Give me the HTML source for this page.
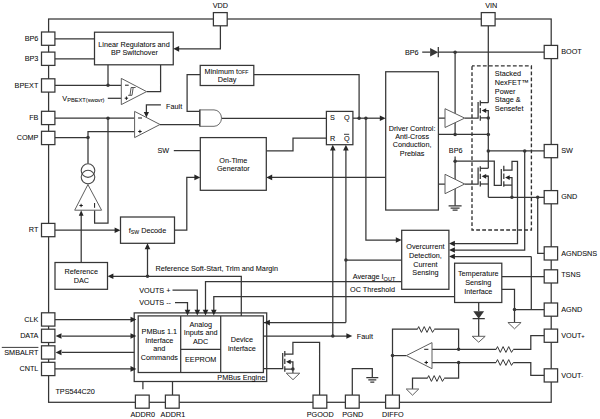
<!DOCTYPE html>
<html><head><meta charset="utf-8"><style>
html,body{margin:0;padding:0;background:#fff;}
svg{display:block;}
text{font-family:"Liberation Sans",sans-serif;}
</style></head><body>
<svg width="600" height="419" viewBox="0 0 600 419">
<rect width="600" height="419" fill="#fff"/>
<rect x="48.6" y="19.0" width="502.6" height="383.3" fill="none" stroke="#363636" stroke-width="1.25" />
<path d="M55,38.8 H94.5 M55,58.75 H94.5" fill="none" stroke="#363636" stroke-width="1.25" />
<path d="M220.4,25.8 V48.8 H179" fill="none" stroke="#363636" stroke-width="1.25" />
<path d="M55,85.3 H121.3 M108,64.8 V85.3 M160.6,64.8 V91.7 H146.6" fill="none" stroke="#363636" stroke-width="1.25" />
<path d="M107.8,98.3 H121.3" fill="none" stroke="#363636" stroke-width="1.25" />
<path d="M55,118.2 H134.6 M108,118.2 V223 H94.6 V210.2" fill="none" stroke="#363636" stroke-width="1.25" />
<path d="M55,137.6 H88 M88,163.8 V131.6 H134.6" fill="none" stroke="#363636" stroke-width="1.25" />
<path d="M81.2,262.5 V215" fill="none" stroke="#363636" stroke-width="1.25" />
<path d="M55,230.2 H115.3" fill="none" stroke="#363636" stroke-width="1.25" />
<path d="M174.5,230.2 H186.8 V177.4 H195" fill="none" stroke="#363636" stroke-width="1.25" />
<path d="M241.3,313 V276.3 H112.7 M147.5,276.3 V248.4" fill="none" stroke="#363636" stroke-width="1.25" />
<path d="M200.2,74.6 H187.1 V111.4 H199.8 M253.8,74.6 H359.1 V118.2" fill="none" stroke="#363636" stroke-width="1.25" />
<path d="M160.9,104.9 H146.4 V112" fill="none" stroke="#363636" stroke-width="1.25" />
<path d="M160,124.6 H199.8" fill="none" stroke="#363636" stroke-width="1.25" />
<path d="M221.5,118.3 H326.4" fill="none" stroke="#363636" stroke-width="1.25" />
<path d="M173.8,150.6 H200.3" fill="none" stroke="#363636" stroke-width="1.25" />
<path d="M266.3,150.8 H293 V138 H326.4" fill="none" stroke="#363636" stroke-width="1.25" />
<path d="M385.7,177.4 H271.5" fill="none" stroke="#363636" stroke-width="1.25" />
<path d="M352.9,118.2 H380.3" fill="none" stroke="#363636" stroke-width="1.25" />
<path d="M365.9,118.2 V240 H396.5" fill="none" stroke="#363636" stroke-width="1.25" />
<path d="M332.8,336 V149.9" fill="none" stroke="#363636" stroke-width="1.25" />
<path d="M345.9,322.6 V149.9 M345.9,260 H401.7 M345.9,322.6 H266.8" fill="none" stroke="#363636" stroke-width="1.25" />
<path d="M266.7,336 H347" fill="none" stroke="#363636" stroke-width="1.25" />
<path d="M422.2,52.2 H430.1 M438.3,52.2 H544.2 M455.1,52.2 V134.4" fill="none" stroke="#363636" stroke-width="1.25" />
<path d="M438.4,118.1 H445 M464.7,118.1 H478.1 V102" fill="none" stroke="#363636" stroke-width="1.25" />
<path d="M480.3,102.7 H488.3 M488.3,25.8 V102.7" fill="none" stroke="#363636" stroke-width="1.25" />
<path d="M484.5,110.6 H488.3 V168.3 M480.3,117.9 H488.3 M484.5,176.2 H488.3 V197.3" fill="none" stroke="#363636" stroke-width="1.25" />
<path d="M438.4,134.4 H488.3" fill="none" stroke="#363636" stroke-width="1.25" />
<path d="M488.3,150.9 H544.2" fill="none" stroke="#363636" stroke-width="1.25" />
<path d="M438.4,184 H445 M464.7,184 H478.1 V167.5" fill="none" stroke="#363636" stroke-width="1.25" />
<path d="M455.1,156.5 V205.8" fill="none" stroke="#363636" stroke-width="1.25" />
<path d="M455.1,161.2 H494.3 V185.3 H501.3 V169" fill="none" stroke="#363636" stroke-width="1.25" />
<path d="M480.3,168.3 H488.3" fill="none" stroke="#363636" stroke-width="1.25" />
<path d="M480.3,184 H488.3" fill="none" stroke="#363636" stroke-width="1.25" />
<path d="M507.9,177.5 H512 V197.3 M503.8,185.1 H512 M503.8,170 H512 V161.3 H517.5 V243.6 H454" fill="none" stroke="#363636" stroke-width="1.25" />
<path d="M488.3,197.3 H544.2 M537.7,197.3 V253.4 H544.2" fill="none" stroke="#363636" stroke-width="1.25" />
<path d="M524.7,150.9 V250 H454" fill="none" stroke="#363636" stroke-width="1.25" />
<path d="M531.3,256.5 V309.5 M531.3,256.5 H454" fill="none" stroke="#363636" stroke-width="1.25" />
<path d="M448.6,205.8 H461.6 M450.6,208 H459.6 M452.6,210.1 H457.6" fill="none" stroke="#363636" stroke-width="1.25" />
<path d="M501.8,276.6 H544.2" fill="none" stroke="#363636" stroke-width="1.25" />
<path d="M501.8,289.3 H514.5 V322.5 M514.5,309.5 H544.2" fill="none" stroke="#363636" stroke-width="1.25" />
<path d="M478.7,302.5 V311.3 M478.7,318.7 V336.3 M472.6,318.7 H484.8" fill="none" stroke="#363636" stroke-width="1.25" />
<path d="M454.6,296.5 H213.8 V310" fill="none" stroke="#363636" stroke-width="1.25" />
<path d="M401.7,281.6 H205.5 V310" fill="none" stroke="#363636" stroke-width="1.25" />
<path d="M172.5,290.1 H197.3 V310" fill="none" stroke="#363636" stroke-width="1.25" />
<path d="M175,302.6 H187.5 V310" fill="none" stroke="#363636" stroke-width="1.25" />
<path d="M55,319.6 H131 M62,336 H131 M62,352.4 H138.2 M55,368.9 H131" fill="none" stroke="#363636" stroke-width="1.25" />
<path d="M142.9,381.5 V389.2 M172.5,381.5 V395" fill="none" stroke="#363636" stroke-width="1.25" />
<path d="M263.6,368.6 H282.7 V352.9" fill="none" stroke="#363636" stroke-width="1.25" />
<path d="M284.8,354.1 H292.9 V342.4 H319.6 V395" fill="none" stroke="#363636" stroke-width="1.25" />
<path d="M289.8,361.8 H292.9 V373.2 M284.8,369 H292.9" fill="none" stroke="#363636" stroke-width="1.25" />
<path d="M352.3,395 V368.5 H372.3 V377.6 M366.3,377.6 H378.3 M368.3,379.9 H376.3 M370.3,382.1 H374.3" fill="none" stroke="#363636" stroke-width="1.25" />
<path d="M392.5,395 V329 H417.3 M434.3,329 H458.6 V349.3" fill="none" stroke="#363636" stroke-width="1.25" />
<path d="M406.3,355.6 H392.5" fill="none" stroke="#363636" stroke-width="1.25" />
<path d="M432,349.3 H496.1 M513.3,349.3 H530.8 V335.6 H544.2" fill="none" stroke="#363636" stroke-width="1.25" />
<path d="M432,362.6 H496.1 M513.3,362.6 H530.8 V375.3 H544.2" fill="none" stroke="#363636" stroke-width="1.25" />
<path d="M458.6,362.6 V378.2 H444.2 M427.3,378.2 H412.5 V389" fill="none" stroke="#363636" stroke-width="1.25" />
<path d="M417.30,329.50 L418.68,326.60 L421.45,332.40 L424.22,326.60 L426.99,332.40 L429.76,326.60 L432.53,332.40 L434.30,329.50" fill="none" stroke="#363636" stroke-width="1.0" />
<path d="M496.10,349.50 L497.50,346.60 L500.30,352.40 L503.10,346.60 L505.90,352.40 L508.71,346.60 L511.51,352.40 L513.30,349.50" fill="none" stroke="#363636" stroke-width="1.0" />
<path d="M496.10,362.50 L497.50,359.60 L500.30,365.40 L503.10,359.60 L505.90,365.40 L508.71,359.60 L511.51,365.40 L513.30,362.50" fill="none" stroke="#363636" stroke-width="1.0" />
<path d="M427.30,378.50 L428.68,375.60 L431.43,381.40 L434.18,375.60 L436.93,381.40 L439.69,375.60 L442.44,381.40 L444.20,378.50" fill="none" stroke="#363636" stroke-width="1.0" />
<rect x="94.5" y="32.2" width="78.75" height="32.60000000000001" fill="#fff" stroke="#363636" stroke-width="1.25" />
<rect x="200.2" y="65.4" width="53.599999999999994" height="20.099999999999994" fill="#fff" stroke="#363636" stroke-width="1.25" />
<rect x="200.3" y="137.6" width="66.0" height="52.70000000000002" fill="#fff" stroke="#363636" stroke-width="1.25" />
<rect x="120.5" y="217.0" width="54.0" height="26.30000000000001" fill="#fff" stroke="#363636" stroke-width="1.25" />
<rect x="55.0" y="262.5" width="52.5" height="26.80000000000001" fill="#fff" stroke="#363636" stroke-width="1.25" />
<rect x="326.4" y="111.4" width="26.5" height="33.29999999999998" fill="#fff" stroke="#363636" stroke-width="1.25" />
<rect x="385.7" y="71.75" width="52.69999999999999" height="138.3" fill="#fff" stroke="#363636" stroke-width="1.25" />
<rect x="401.7" y="230.3" width="47.19999999999999" height="59.0" fill="#fff" stroke="#363636" stroke-width="1.25" />
<rect x="454.6" y="263.2" width="47.19999999999999" height="39.30000000000001" fill="#fff" stroke="#363636" stroke-width="1.25" />
<rect x="472" y="65.9" width="59.4" height="164.1" fill="none" stroke="#333" stroke-width="1.35" stroke-dasharray="3.8,2.2" stroke-dashoffset="1.1"/>
<rect x="134.2" y="312.9" width="132.5" height="68.60000000000002" fill="#fff" stroke="#363636" stroke-width="1.25" />
<rect x="138.2" y="315.9" width="125.19999999999999" height="56.60000000000002" fill="#fff" stroke="#363636" stroke-width="1.25" />
<path d="M180.7,315.9 V372.5 M220.7,315.9 V372.5 M180.7,349.3 H220.7" fill="none" stroke="#363636" stroke-width="1.25" />
<path d="M263.4,336 H266.8 M263.4,368.6 H266.8 M241.3,312.8 V315.9 M263.4,322.6 H266.8" fill="none" stroke="#363636" stroke-width="1.25" />
<polygon points="121.3,78.4 121.3,104.6 146.6,91.6" fill="#fff" stroke="#5e5e5e" stroke-width="1.0" stroke-linejoin="miter"/>
<polygon points="134.6,111.4 134.6,137.6 160.0,124.5" fill="#fff" stroke="#5e5e5e" stroke-width="1.0" stroke-linejoin="miter"/>
<polygon points="87.9,184.6 74.7,210.2 101.6,210.2" fill="#fff" stroke="#5e5e5e" stroke-width="1.0" stroke-linejoin="miter"/>
<polygon points="445,108.7 445,127.5 464.7,118.1" fill="#fff" stroke="#5e5e5e" stroke-width="1.0" stroke-linejoin="miter"/>
<polygon points="445,174.3 445,193.7 464.7,184.0" fill="#fff" stroke="#5e5e5e" stroke-width="1.0" stroke-linejoin="miter"/>
<polygon points="406.3,355.6 432,342.6 432,368.7" fill="#fff" stroke="#5e5e5e" stroke-width="1.0" stroke-linejoin="miter"/>
<path d="M199.8,109.9 H214.0 A7.5,8.2 0 0 1 214.0,126.3 H199.8 Z" fill="#fff" stroke="#6a6a6a" stroke-width="1.0"/>
<path d="M199.8,109.6 V126.6" fill="none" stroke="#363636" stroke-width="1.25" />
<circle cx="88" cy="170.6" r="6.8" fill="#fff" stroke="#4a4a4a" stroke-width="1.1"/>
<circle cx="88" cy="177.1" r="6.8" fill="none" stroke="#4a4a4a" stroke-width="1.1"/>
<path d="M128.1,95.3 H132.0 L133.2,87.5 H135.6 M130.0,95.3 L131.1,87.5 H133.2" fill="none" stroke="#363636" stroke-width="0.85" />
<path d="M125.0,85.2 H128.7 M124.7,98.2 H128.1 M126.4,96.5 V99.9 M138.1,118.0 H142.0 M138.2,131.5 H141.7 M139.95,129.8 V133.2 M79.4,205.5 H82.8 M81.1,203.8 V207.2 M94.6,203.0 V207.8 M424.2,349.3 H428.4 M424.5,362.5 H428.0 M426.25,360.8 V364.2" stroke="#1a1a1a" stroke-width="1.0" fill="none"/>
<polygon points="430.1,47.9 430.1,56.5 438.3,52.2" fill="#363636"/>
<path d="M438.3,47.1 V57.3" fill="none" stroke="#363636" stroke-width="1.25" />
<polygon points="473.3,311.3 484.1,311.3 478.7,318.7" fill="#363636"/>
<polygon points="507.9,322.5 521.1,322.5 514.5,328.8" fill="#fff" stroke="#5e5e5e" stroke-width="1.0" stroke-linejoin="miter"/>
<polygon points="472.2,336.3 485.2,336.3 478.7,342.2" fill="#fff" stroke="#5e5e5e" stroke-width="1.0" stroke-linejoin="miter"/>
<polygon points="406.25,389 418.75,389 412.5,395.2" fill="#fff" stroke="#5e5e5e" stroke-width="1.0" stroke-linejoin="miter"/>
<polygon points="286.25,373.2 299.75,373.2 293.0,379.7" fill="#fff" stroke="#5e5e5e" stroke-width="1.0" stroke-linejoin="miter"/>
<path d="M480.3,100.4 V105.7 M480.3,107.95 V113.25 M480.3,115.5 V120.8" fill="none" stroke="#363636" stroke-width="1.25" />
<path d="M480.3,166.3 V171.58 M480.3,173.81 V179.09 M480.3,181.32 V186.6" fill="none" stroke="#363636" stroke-width="1.25" />
<path d="M503.8,165.8 V171.23 M503.8,173.53 V178.97 M503.8,181.27 V186.7" fill="none" stroke="#363636" stroke-width="1.25" />
<path d="M284.8,351.1 V356.46 M284.8,358.72 V364.08 M284.8,366.34 V371.7" fill="none" stroke="#363636" stroke-width="1.25" />
<polygon points="481.6,110.6 486.20000000000005,108.19999999999999 486.20000000000005,113.0" fill="#222"/>
<polygon points="481.6,176.3 486.20000000000005,173.9 486.20000000000005,178.70000000000002" fill="#222"/>
<polygon points="505.1,177.6 509.70000000000005,175.2 509.70000000000005,180.0" fill="#222"/>
<polygon points="286.1,361.8 290.70000000000005,359.40000000000003 290.70000000000005,364.2" fill="#222"/>
<path d="M484.5,176.2 H488.3" fill="none" stroke="#363636" stroke-width="1.25" />
<polygon points="173.30,48.80 179.10,45.90 179.10,51.70" fill="#262626" stroke="none"/>
<polygon points="146.40,117.60 143.80,112.00 149.00,112.00" fill="#262626" stroke="none"/>
<polygon points="81.20,210.20 78.80,215.80 83.60,215.80" fill="#262626" stroke="none"/>
<polygon points="120.50,230.20 114.60,227.40 114.60,233.00" fill="#262626" stroke="none"/>
<polygon points="200.30,177.40 194.40,174.60 194.40,180.20" fill="#262626" stroke="none"/>
<polygon points="107.50,276.30 113.40,273.50 113.40,279.10" fill="#262626" stroke="none"/>
<polygon points="147.50,243.30 144.70,249.20 150.30,249.20" fill="#262626" stroke="none"/>
<polygon points="266.30,177.40 272.20,174.60 272.20,180.20" fill="#262626" stroke="none"/>
<polygon points="385.70,118.20 379.80,115.40 379.80,121.00" fill="#262626" stroke="none"/>
<polygon points="401.70,240.00 395.80,237.20 395.80,242.80" fill="#262626" stroke="none"/>
<polygon points="332.80,144.70 330.00,150.60 335.60,150.60" fill="#262626" stroke="none"/>
<polygon points="345.90,144.70 343.10,150.60 348.70,150.60" fill="#262626" stroke="none"/>
<polygon points="264.00,322.60 269.90,319.80 269.90,325.40" fill="#262626" stroke="none"/>
<polygon points="352.30,336.00 346.40,333.20 346.40,338.80" fill="#262626" stroke="none"/>
<polygon points="449.00,243.60 454.90,240.80 454.90,246.40" fill="#262626" stroke="none"/>
<polygon points="449.00,250.00 454.90,247.20 454.90,252.80" fill="#262626" stroke="none"/>
<polygon points="449.00,256.50 454.90,253.70 454.90,259.30" fill="#262626" stroke="none"/>
<polygon points="187.50,315.60 184.70,309.70 190.30,309.70" fill="#262626" stroke="none"/>
<polygon points="197.30,315.60 194.50,309.70 200.10,309.70" fill="#262626" stroke="none"/>
<polygon points="205.50,315.60 202.70,309.70 208.30,309.70" fill="#262626" stroke="none"/>
<polygon points="213.80,315.60 211.00,309.70 216.60,309.70" fill="#262626" stroke="none"/>
<polygon points="136.40,319.60 130.50,316.80 130.50,322.40" fill="#262626" stroke="none"/>
<polygon points="136.40,336.00 130.50,333.20 130.50,338.80" fill="#262626" stroke="none"/>
<polygon points="55.60,336.00 61.50,333.20 61.50,338.80" fill="#262626" stroke="none"/>
<polygon points="55.60,352.40 61.50,349.60 61.50,355.20" fill="#262626" stroke="none"/>
<polygon points="136.40,368.90 130.50,366.10 130.50,371.70" fill="#262626" stroke="none"/>
<circle cx="108" cy="85.3" r="1.75" fill="#363636"/>
<circle cx="108" cy="118.2" r="1.75" fill="#363636"/>
<circle cx="88" cy="137.6" r="1.75" fill="#363636"/>
<circle cx="147.5" cy="276.3" r="1.75" fill="#363636"/>
<circle cx="359.1" cy="118.2" r="1.75" fill="#363636"/>
<circle cx="365.9" cy="118.2" r="1.75" fill="#363636"/>
<circle cx="345.9" cy="260.0" r="1.75" fill="#363636"/>
<circle cx="332.8" cy="336.0" r="1.75" fill="#363636"/>
<circle cx="455.1" cy="52.2" r="1.75" fill="#363636"/>
<circle cx="455.1" cy="134.4" r="1.75" fill="#363636"/>
<circle cx="488.3" cy="134.4" r="1.75" fill="#363636"/>
<circle cx="488.3" cy="150.9" r="1.75" fill="#363636"/>
<circle cx="524.7" cy="150.9" r="1.75" fill="#363636"/>
<circle cx="455.1" cy="161.2" r="1.75" fill="#363636"/>
<circle cx="488.3" cy="117.9" r="1.75" fill="#363636"/>
<circle cx="511.9" cy="197.3" r="1.75" fill="#363636"/>
<circle cx="537.7" cy="197.3" r="1.75" fill="#363636"/>
<circle cx="514.5" cy="309.5" r="1.75" fill="#363636"/>
<circle cx="392.5" cy="355.6" r="1.75" fill="#363636"/>
<circle cx="458.6" cy="349.3" r="1.75" fill="#363636"/>
<circle cx="458.6" cy="362.6" r="1.75" fill="#363636"/>
<circle cx="292.9" cy="369" r="1.75" fill="#363636"/>
<rect x="41.5" y="32.0" width="13.399999999999999" height="13.299999999999997" fill="#fff" stroke="#363636" stroke-width="1.25" />
<rect x="41.5" y="52.1" width="13.399999999999999" height="13.300000000000004" fill="#fff" stroke="#363636" stroke-width="1.25" />
<rect x="41.5" y="78.8" width="13.399999999999999" height="13.299999999999997" fill="#fff" stroke="#363636" stroke-width="1.25" />
<rect x="41.5" y="111.3" width="13.399999999999999" height="13.299999999999997" fill="#fff" stroke="#363636" stroke-width="1.25" />
<rect x="41.5" y="131.3" width="13.399999999999999" height="13.300000000000011" fill="#fff" stroke="#363636" stroke-width="1.25" />
<rect x="41.5" y="223.4" width="13.399999999999999" height="13.300000000000011" fill="#fff" stroke="#363636" stroke-width="1.25" />
<rect x="41.5" y="312.8" width="13.399999999999999" height="13.300000000000011" fill="#fff" stroke="#363636" stroke-width="1.25" />
<rect x="41.5" y="329.2" width="13.399999999999999" height="13.300000000000011" fill="#fff" stroke="#363636" stroke-width="1.25" />
<rect x="41.5" y="345.8" width="13.399999999999999" height="13.300000000000011" fill="#fff" stroke="#363636" stroke-width="1.25" />
<rect x="41.5" y="362.3" width="13.399999999999999" height="13.300000000000011" fill="#fff" stroke="#363636" stroke-width="1.25" />
<rect x="544.2" y="45.4" width="13.399999999999977" height="13.199999999999996" fill="#fff" stroke="#363636" stroke-width="1.25" />
<rect x="544.2" y="144.5" width="13.399999999999977" height="13.199999999999989" fill="#fff" stroke="#363636" stroke-width="1.25" />
<rect x="544.2" y="190.6" width="13.399999999999977" height="13.199999999999989" fill="#fff" stroke="#363636" stroke-width="1.25" />
<rect x="544.2" y="246.8" width="13.399999999999977" height="13.199999999999989" fill="#fff" stroke="#363636" stroke-width="1.25" />
<rect x="544.2" y="269.8" width="13.399999999999977" height="13.199999999999989" fill="#fff" stroke="#363636" stroke-width="1.25" />
<rect x="544.2" y="303.0" width="13.399999999999977" height="13.199999999999989" fill="#fff" stroke="#363636" stroke-width="1.25" />
<rect x="544.2" y="329.1" width="13.399999999999977" height="13.199999999999989" fill="#fff" stroke="#363636" stroke-width="1.25" />
<rect x="544.2" y="368.8" width="13.399999999999977" height="13.199999999999989" fill="#fff" stroke="#363636" stroke-width="1.25" />
<rect x="213.4" y="12.6" width="13.800000000000011" height="13.199999999999998" fill="#fff" stroke="#363636" stroke-width="1.25" />
<rect x="481.3" y="12.6" width="13.800000000000011" height="13.199999999999998" fill="#fff" stroke="#363636" stroke-width="1.25" />
<rect x="135.4" y="395.1" width="13.800000000000011" height="13.100000000000023" fill="#fff" stroke="#363636" stroke-width="1.25" />
<rect x="165.4" y="395.1" width="13.800000000000011" height="13.100000000000023" fill="#fff" stroke="#363636" stroke-width="1.25" />
<rect x="313.0" y="395.1" width="13.800000000000011" height="13.100000000000023" fill="#fff" stroke="#363636" stroke-width="1.25" />
<rect x="345.4" y="395.1" width="13.800000000000011" height="13.100000000000023" fill="#fff" stroke="#363636" stroke-width="1.25" />
<rect x="385.6" y="395.1" width="13.800000000000011" height="13.100000000000023" fill="#fff" stroke="#363636" stroke-width="1.25" />
<g fill="#0a0a0a" stroke="#0a0a0a" stroke-width="0.06" font-family="Liberation Sans, sans-serif">
<text x="38.4" y="41.0" text-anchor="end" font-size="7.25" >BP6</text>
<text x="38.4" y="60.95" text-anchor="end" font-size="7.25" >BP3</text>
<text x="38.4" y="87.5" text-anchor="end" font-size="7.25" >BPEXT</text>
<text x="38.4" y="120.4" text-anchor="end" font-size="7.25" >FB</text>
<text x="38.4" y="139.79999999999998" text-anchor="end" font-size="7.25" >COMP</text>
<text x="38.4" y="232.39999999999998" text-anchor="end" font-size="7.25" >RT</text>
<text x="38.4" y="321.8" text-anchor="end" font-size="7.25" >CLK</text>
<text x="38.4" y="338.2" text-anchor="end" font-size="7.25" >DATA</text>
<text x="38.4" y="354.59999999999997" text-anchor="end" font-size="7.25" >SMBALRT</text>
<text x="38.4" y="371.09999999999997" text-anchor="end" font-size="7.25" >CNTL</text>
<path d="M1.8,347.4 H38.4" stroke="#0a0a0a" stroke-width="0.8"/>
<text x="561.2" y="54.300000000000004" text-anchor="start" font-size="7.25" >BOOT</text>
<text x="561.2" y="153.0" text-anchor="start" font-size="7.25" >SW</text>
<text x="561.2" y="199.4" text-anchor="start" font-size="7.25" >GND</text>
<text x="561.2" y="255.5" text-anchor="start" font-size="7.25" >AGNDSNS</text>
<text x="561.2" y="277.3" text-anchor="start" font-size="7.25" >TSNS</text>
<text x="561.2" y="311.6" text-anchor="start" font-size="7.25" >AGND</text>
<text x="561.2" y="337.8" text-anchor="start" font-size="7.25" >VOUT<tspan font-size="5.8">+</tspan></text>
<text x="561.2" y="377.5" text-anchor="start" font-size="7.25" >VOUT<tspan font-size="5.8">-</tspan></text>
<text x="220.4" y="7.6" text-anchor="middle" font-size="7.25" >VDD</text>
<text x="491.3" y="7.6" text-anchor="middle" font-size="7.25" >VIN</text>
<text x="142.70000000000002" y="417.2" text-anchor="middle" font-size="7.25" >ADDR0</text>
<text x="172.9" y="417.2" text-anchor="middle" font-size="7.25" >ADDR1</text>
<text x="320.2" y="417.2" text-anchor="middle" font-size="7.25" >PGOOD</text>
<text x="352.7" y="417.2" text-anchor="middle" font-size="7.25" >PGND</text>
<text x="392.9" y="417.2" text-anchor="middle" font-size="7.25" >DIFFO</text>
<text x="134.0" y="46.8" text-anchor="middle" font-size="7.25" >Linear Regulators and</text>
<text x="134.4" y="55.4" text-anchor="middle" font-size="7.25" >BP Switchover</text>
<text x="226.5" y="73.9" text-anchor="middle" font-size="7.25" >Minimum t<tspan font-size="5.2">OFF</tspan></text>
<text x="227.1" y="81.8" text-anchor="middle" font-size="7.25" >Delay</text>
<text x="62.3" y="100.7" text-anchor="start" font-size="7.25" >V<tspan font-size="5.7" dy="1.7">PBEXT(swovr)</tspan></text>
<text x="166.1" y="108.6" text-anchor="start" font-size="7.25" >Fault</text>
<text x="157.5" y="153.2" text-anchor="start" font-size="7.25" >SW</text>
<text x="233.3" y="162.9" text-anchor="middle" font-size="7.25" >On-Time</text>
<text x="233.3" y="170.9" text-anchor="middle" font-size="7.25" >Generator</text>
<text x="147.5" y="232.7" text-anchor="middle" font-size="7.25" >f<tspan font-size="5.2" dy="1.4">SW</tspan><tspan dy="-1.4"> Decode</tspan></text>
<text x="81.3" y="273.8" text-anchor="middle" font-size="7.25" >Reference</text>
<text x="81.3" y="282.6" text-anchor="middle" font-size="7.25" >DAC</text>
<text x="155.5" y="270.5" text-anchor="start" font-size="7.25" >Reference Soft-Start, Trim and Margin</text>
<text x="139.2" y="292.6" text-anchor="start" font-size="7.25" >VOUTS +</text>
<text x="139.2" y="305.1" text-anchor="start" font-size="7.25" >VOUTS --</text>
<text x="159.3" y="333.6" text-anchor="middle" font-size="7.25" >PMBus 1.1</text>
<text x="159.3" y="342.5" text-anchor="middle" font-size="7.25" >Interface</text>
<text x="159.3" y="351.2" text-anchor="middle" font-size="7.25" >and</text>
<text x="159.3" y="360.0" text-anchor="middle" font-size="7.25" >Commands</text>
<text x="200.7" y="326.6" text-anchor="middle" font-size="7.25" >Analog</text>
<text x="200.7" y="335.3" text-anchor="middle" font-size="7.25" >Inputs and</text>
<text x="200.7" y="343.7" text-anchor="middle" font-size="7.25" >ADC</text>
<text x="200.7" y="362.4" text-anchor="middle" font-size="7.25" >EEPROM</text>
<text x="241.9" y="342.3" text-anchor="middle" font-size="7.25" >Device</text>
<text x="241.9" y="351.2" text-anchor="middle" font-size="7.25" >interface</text>
<text x="265.3" y="380.4" text-anchor="end" font-size="7.25" >PMBus Engine</text>
<text x="55.4" y="394.1" text-anchor="start" font-size="7.25" >TPS544C20</text>
<text x="329.9" y="120.0" text-anchor="start" font-size="7.25" >S</text>
<text x="343.9" y="120.0" text-anchor="start" font-size="7.25" >Q</text>
<text x="329.9" y="141.4" text-anchor="start" font-size="7.25" >R</text>
<text x="343.9" y="141.4" text-anchor="start" font-size="7.25" >Q</text>
<path d="M344,134.3 H349.2" stroke="#0a0a0a" stroke-width="0.8"/>
<text x="412.1" y="130.5" text-anchor="middle" font-size="7.25" >Driver Control:</text>
<text x="412.1" y="138.9" text-anchor="middle" font-size="7.25" >Anti-Cross</text>
<text x="412.1" y="147.4" text-anchor="middle" font-size="7.25" >Conduction,</text>
<text x="412.1" y="156.0" text-anchor="middle" font-size="7.25" >Prebias</text>
<text x="404.9" y="54.8" text-anchor="start" font-size="7.25" >BP6</text>
<text x="448.8" y="153.0" text-anchor="start" font-size="7.25" >BP6</text>
<text x="494.8" y="76.0" text-anchor="start" font-size="7.25" >Stacked</text>
<text x="494.8" y="84.9" text-anchor="start" font-size="7.25" >NexFET™</text>
<text x="494.8" y="93.7" text-anchor="start" font-size="7.25" >Power</text>
<text x="494.8" y="102.4" text-anchor="start" font-size="7.25" >Stage &amp;</text>
<text x="494.8" y="111.2" text-anchor="start" font-size="7.25" >Sensefet</text>
<text x="425.4" y="249.1" text-anchor="middle" font-size="7.25" >Overcurrent</text>
<text x="425.4" y="258.0" text-anchor="middle" font-size="7.25" >Detection,</text>
<text x="425.4" y="266.6" text-anchor="middle" font-size="7.25" >Current</text>
<text x="425.4" y="275.2" text-anchor="middle" font-size="7.25" >Sensing</text>
<text x="478.3" y="276.1" text-anchor="middle" font-size="7.25" >Temperature</text>
<text x="478.3" y="284.9" text-anchor="middle" font-size="7.25" >Sensing</text>
<text x="478.3" y="293.7" text-anchor="middle" font-size="7.25" >Interface</text>
<text x="352.7" y="278.6" text-anchor="start" font-size="7.25" >Average I<tspan font-size="5.6" dy="1.9">OUT</tspan></text>
<text x="350.0" y="291.7" text-anchor="start" font-size="7.25" >OC Threshold</text>
<text x="356.8" y="338.6" text-anchor="start" font-size="7.25" >Fault</text>
</g>
</svg>
</body></html>
